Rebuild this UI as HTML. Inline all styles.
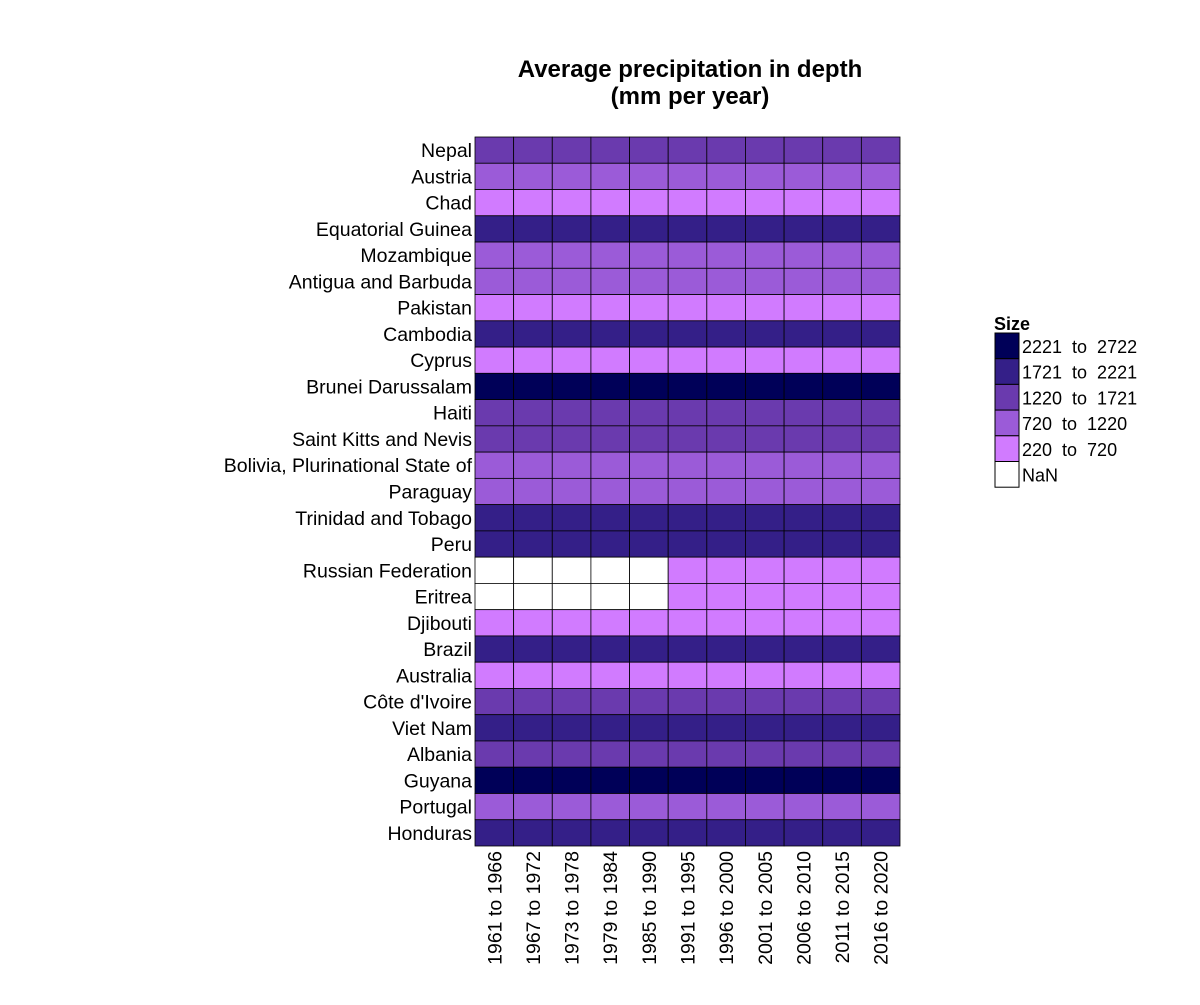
<!DOCTYPE html>
<html><head><meta charset="utf-8"><style>
body{margin:0;background:#fff;font-family:"Liberation Sans",sans-serif}
</style></head><body>
<svg id="c" width="1200" height="1000" xmlns="http://www.w3.org/2000/svg" font-family="Liberation Sans, sans-serif">
<text x="690" y="77" text-anchor="middle" font-size="24" font-weight="bold">Average precipitation in depth</text>
<text x="690" y="104" text-anchor="middle" font-size="24" font-weight="bold">(mm per year)</text>
<g id="cells"></g><g id="ylab"></g><g id="xlab"></g><g id="legend"></g>
</svg>
<script>
const countries=["Nepal","Austria","Chad","Equatorial Guinea","Mozambique","Antigua and Barbuda","Pakistan","Cambodia","Cyprus","Brunei Darussalam","Haiti","Saint Kitts and Nevis","Bolivia, Plurinational State of","Paraguay","Trinidad and Tobago","Peru","Russian Federation","Eritrea","Djibouti","Brazil","Australia","Côte d'Ivoire","Viet Nam","Albania","Guyana","Portugal","Honduras"];
const periods=["1961 to 1966","1967 to 1972","1973 to 1978","1979 to 1984","1985 to 1990","1991 to 1995","1996 to 2000","2001 to 2005","2006 to 2010","2011 to 2015","2016 to 2020"];
const rowValues=[1500,1110,322,2156,1032,1030,494,1904,498,2722,1440,1427,1146,1130,2200,1738,460,384,220,1761,534,1348,1821,1485,2387,854,1976];
const nanCells=[[16,0],[16,1],[16,2],[16,3],[16,4],[17,0],[17,1],[17,2],[17,3],[17,4]];
const legendLabels=["2221  to  2722","1721  to  2221","1220  to  1721","720  to  1220","220  to  720","NaN"];
const breaks=[2221,1721,1220,720,220];
const colors=["#000058","#341f88","#6a3aae","#9b5bd8","#d17bff","#ffffff"];
const NS="http://www.w3.org/2000/svg";
const X0=475,X1=900,Y0=137,Y1=846;
const cw=(X1-X0)/periods.length, ch=(Y1-Y0)/countries.length;
const xs=i=>X0+i*cw, ys=j=>Y0+j*ch;
function col(v){if(v==null||isNaN(v))return colors[5];for(let k=0;k<breaks.length;k++)if(v>=breaks[k])return colors[k];return colors[4];}
function mk(t,a,p){const e=document.createElementNS(NS,t);for(const k in a)e.setAttribute(k,a[k]);p.appendChild(e);return e;}
const cells=document.getElementById('cells'),yl=document.getElementById('ylab'),xl=document.getElementById('xlab'),lg=document.getElementById('legend');
countries.forEach((c,j)=>{
 periods.forEach((p,i)=>{
  let v=rowValues[j]; if(nanCells.some(n=>n[0]===j&&n[1]===i)) v=NaN;
  const r=mk('rect',{x:xs(i),y:ys(j),width:cw,height:ch,fill:col(v),stroke:'#000','stroke-width':0.8},cells);
  
  
 });
 const t=mk('text',{x:472,y:ys(j)+ch/2+7,'text-anchor':'end','font-size':19.5},yl);t.textContent=c;
 
 
});
periods.forEach((p,i)=>{
 const cx=xs(i)+cw/2+7;
 const t=mk('text',{x:cx,y:851,'text-anchor':'end','font-size':19.5,transform:`rotate(-90 ${cx} 851)`},xl);t.textContent=p;
 
 
});
const lt=mk('text',{x:994,y:330,'font-size':18,'font-weight':'bold'},lg);lt.textContent="Size";


legendLabels.forEach((l,k)=>{
 const y=333+k*25.7;
 const r=mk('rect',{x:995,y:y,width:24,height:25.7,fill:colors[k],stroke:'#000','stroke-width':1},lg);
 
 
 const t=mk('text',{x:1022,y:y+20,'font-size':18},lg);t.textContent=l;
 t.style.whiteSpace='pre';
 
 
});
</script>
</body></html>
